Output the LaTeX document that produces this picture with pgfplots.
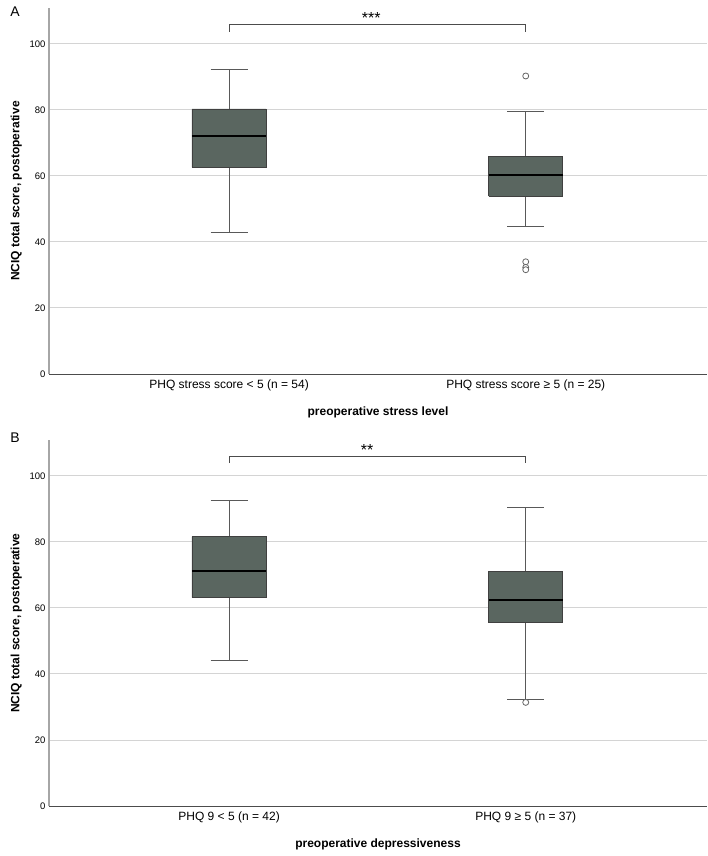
\documentclass[border=0pt]{standalone}
\usepackage{pgfplots}
\pgfplotsset{compat=1.18}
\usepackage{fontspec}
\setmainfont{Liberation Sans}
\definecolor{boxc}{RGB}{90,102,96}
\definecolor{gridc}{RGB}{212,212,212}
\pgfplotsset{
  panel/.style={
    scale only axis, width=658pt, height=366pt, anchor=north west,
    xmin=0.393, xmax=2.611, ymin=0, ymax=110.9,
    axis x line*=bottom, axis y line*=left,
    x axis line style={draw=black!70, line width=1pt},
    y axis line style={draw=black!35, line width=1.6pt},
    ytick={0,20,40,60,80,100}, yticklabels={0,20,40,60,80,100},
    xtick={1,2}, tick style={draw=none},
    ymajorgrids, grid style={gridc, line width=1pt},
    yticklabel style={font=\fontsize{9.5}{11}\selectfont},
    xticklabel style={font=\fontsize{12}{14}\selectfont, yshift=-2pt},
    xlabel style={font=\bfseries\fontsize{12}{14}\selectfont, yshift=-9pt},
    ylabel style={font=\bfseries\fontsize{12}{14}\selectfont, yshift=1pt},
  },
  wh/.style={draw=black!65, line width=1pt},
  bx/.style={fill=boxc, draw=black!75, line width=0.8pt, line join=miter},
  md/.style={draw=black, line width=1.8pt},
  outl/.style={only marks, mark=*, mark size=3pt, mark options={draw=black!60, fill=white, line width=0.8pt}},
  br/.style={draw=black!70, line width=1pt},
}
\begin{document}
\begin{tikzpicture}
\node[font=\fontsize{14}{16}\selectfont] at (15pt,-12pt) {A};
\node[font=\fontsize{14}{16}\selectfont] at (15pt,-438pt) {B};
\begin{axis}[panel, at={(49pt,-8pt)},
  xticklabels={PHQ stress score < 5 (n = 54), PHQ stress score ≥ 5 (n = 25)},
  xlabel={preoperative stress level},
  ylabel={NCIQ total score, postoperative}]
% group 1
\addplot[wh] coordinates {(1,80.3) (1,92.4)};
\addplot[wh] coordinates {(1,62.7) (1,42.8)};
\addplot[wh] coordinates {(0.9375,92.4) (1.0625,92.4)};
\addplot[wh] coordinates {(0.9375,42.8) (1.0625,42.8)};
\addplot[bx] coordinates {(0.875,62.7) (1.125,62.7) (1.125,80.3) (0.875,80.3) (0.875,62.7)};
\addplot[md] coordinates {(0.875,72.1) (1.125,72.1)};
% group 2
\addplot[wh] coordinates {(2,65.8) (2,79.4)};
\addplot[wh] coordinates {(2,53.9) (2,44.6)};
\addplot[wh] coordinates {(1.9375,79.4) (2.0625,79.4)};
\addplot[wh] coordinates {(1.9375,44.6) (2.0625,44.6)};
\addplot[bx] coordinates {(1.875,53.9) (2.125,53.9) (2.125,65.8) (1.875,65.8) (1.875,53.9)};
\addplot[md] coordinates {(1.875,60.3) (2.125,60.3)};
\addplot[outl] coordinates {(2,90.3) (2,34.0) (2,32.3) (2,31.6)};
% significance
\addplot[br] coordinates {(1,103.7) (1,105.9) (2,105.9) (2,103.7)};
\node[font=\fontsize{16}{18}\selectfont, anchor=base] at (axis cs:1.479,106.2) {***};
\end{axis}
\begin{axis}[panel, at={(49pt,-440pt)},
  xticklabels={PHQ 9 < 5 (n = 42), PHQ 9 ≥ 5 (n = 37)},
  xlabel={preoperative depressiveness},
  ylabel={NCIQ total score, postoperative}]
\addplot[wh] coordinates {(1,81.6) (1,92.6)};
\addplot[wh] coordinates {(1,63.2) (1,44.2)};
\addplot[wh] coordinates {(0.9375,92.6) (1.0625,92.6)};
\addplot[wh] coordinates {(0.9375,44.2) (1.0625,44.2)};
\addplot[bx] coordinates {(0.875,63.2) (1.125,63.2) (1.125,81.6) (0.875,81.6) (0.875,63.2)};
\addplot[md] coordinates {(0.875,71.1) (1.125,71.1)};
\addplot[wh] coordinates {(2,71.2) (2,90.5)};
\addplot[wh] coordinates {(2,55.5) (2,32.3)};
\addplot[wh] coordinates {(1.9375,90.5) (2.0625,90.5)};
\addplot[wh] coordinates {(1.9375,32.3) (2.0625,32.3)};
\addplot[bx] coordinates {(1.875,55.5) (2.125,55.5) (2.125,71.2) (1.875,71.2) (1.875,55.5)};
\addplot[md] coordinates {(1.875,62.4) (2.125,62.4)};
\addplot[outl] coordinates {(2,31.4)};
\addplot[br] coordinates {(1,103.9) (1,105.9) (2,105.9) (2,103.9)};
\node[font=\fontsize{16}{18}\selectfont, anchor=base] at (axis cs:1.465,106.2) {**};
\end{axis}
\pgfresetboundingbox
\path (0,0) rectangle (708pt,-856pt);
\end{tikzpicture}
\end{document}
